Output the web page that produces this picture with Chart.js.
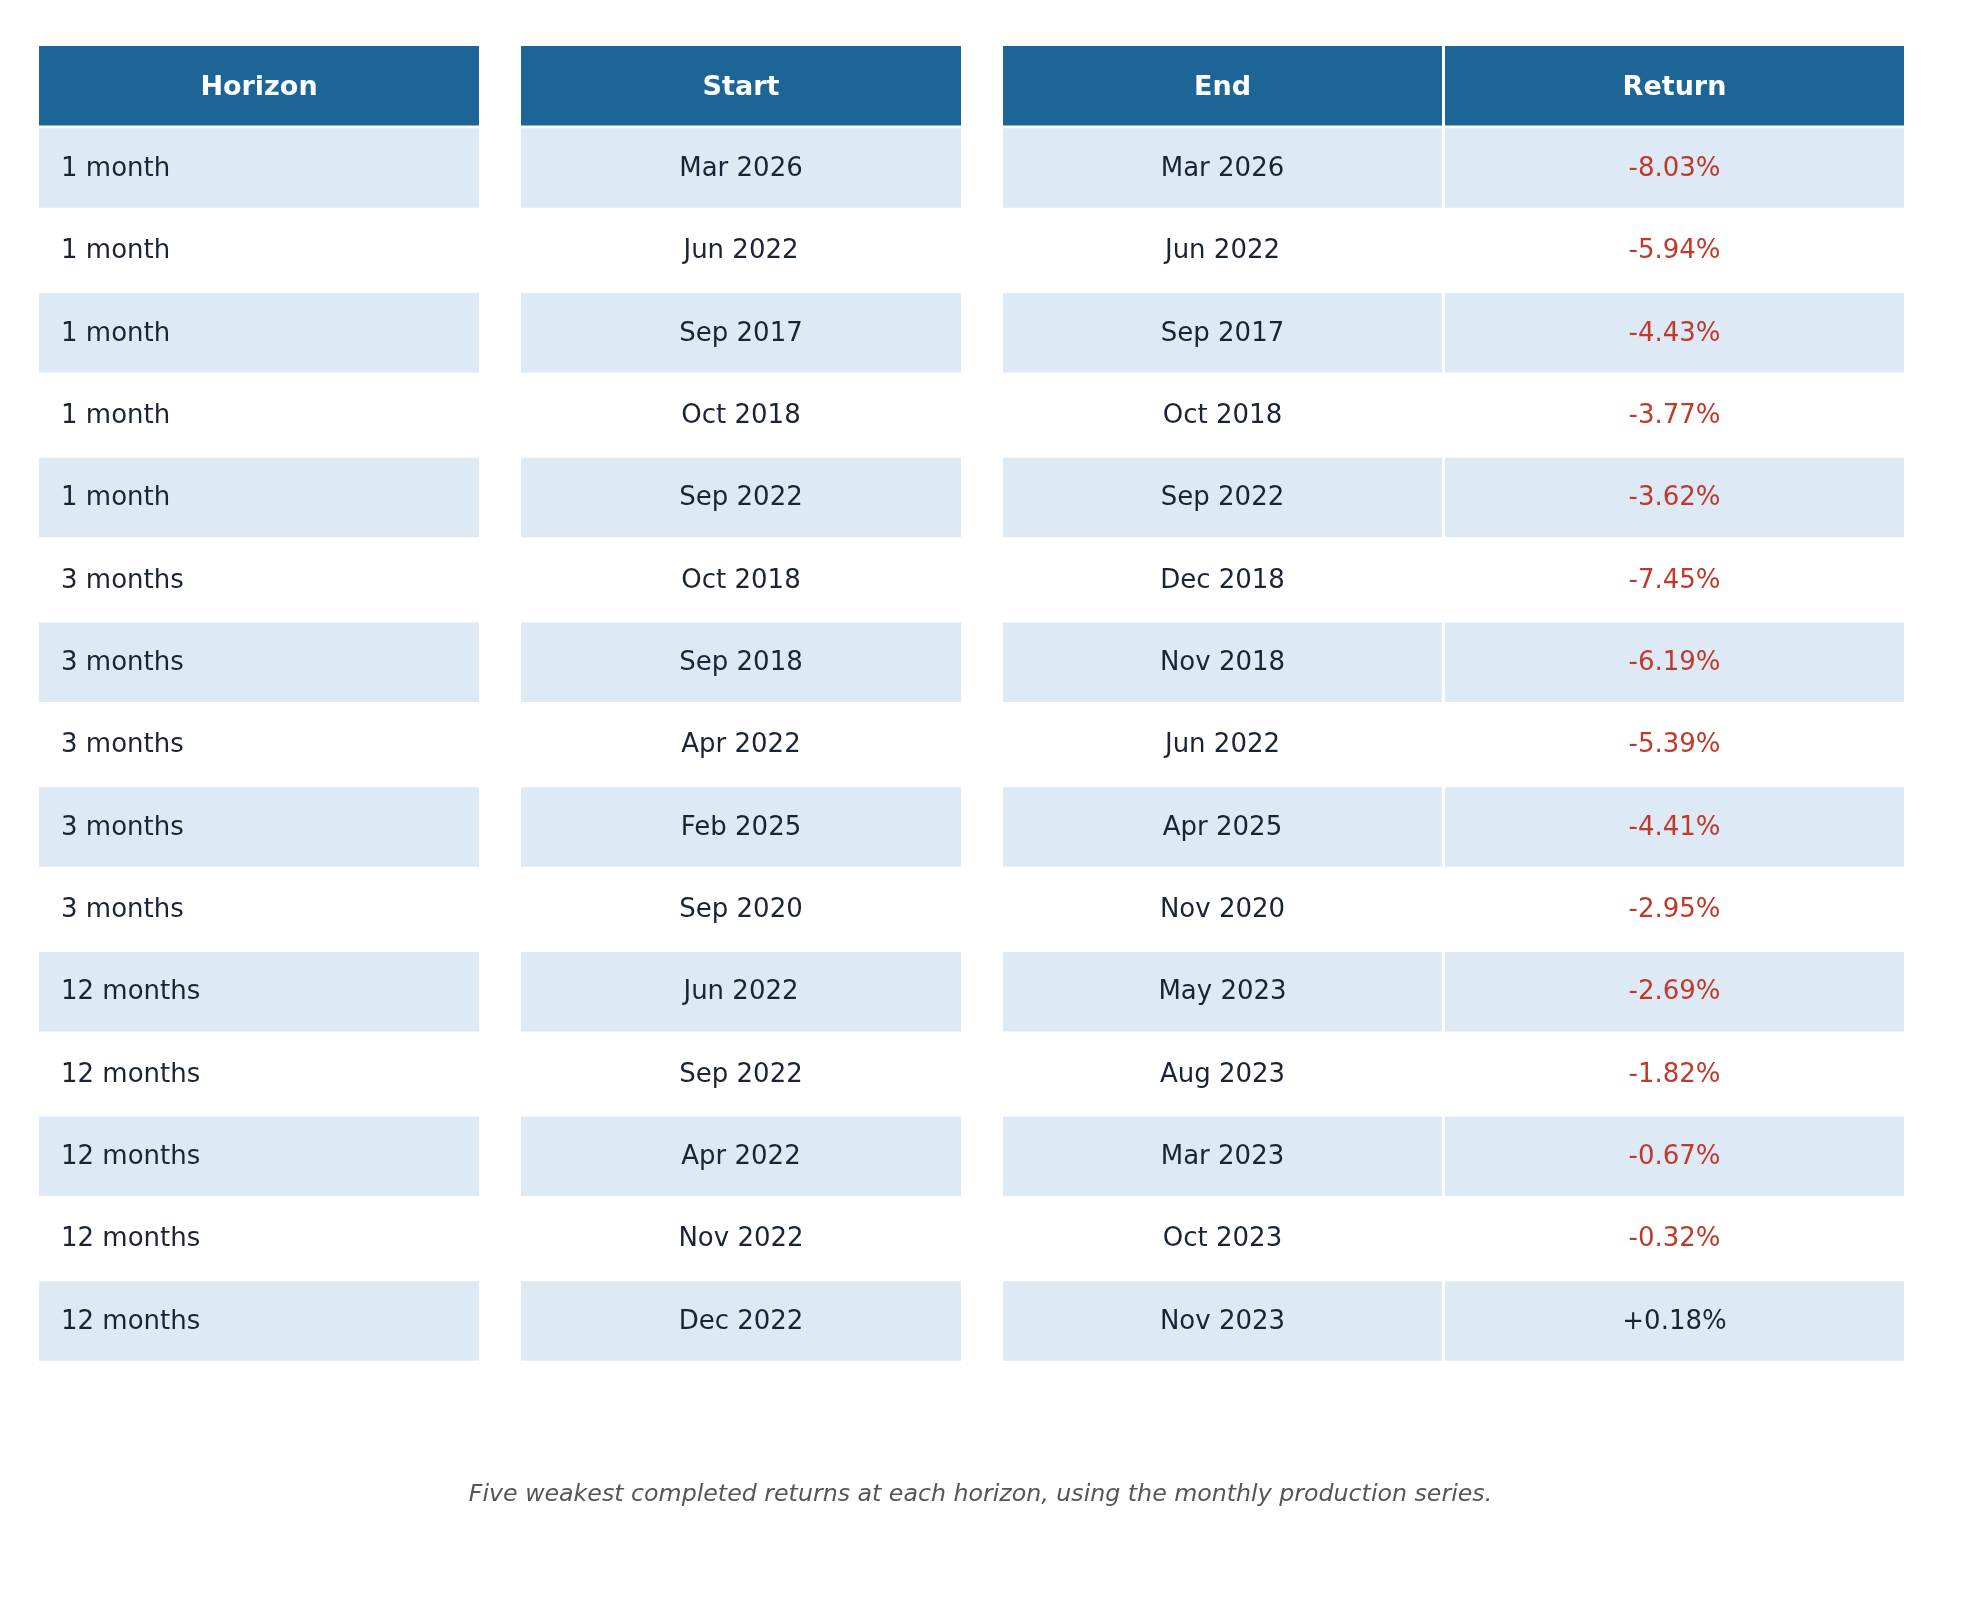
<!DOCTYPE html>
<html>
<head>
<meta charset="utf-8">
<script src="https://cdn.jsdelivr.net/npm/chart.js@4/dist/chart.umd.min.js"></script>
<style>
  html, body { margin: 0; padding: 0; background: #ffffff; }
  #wrap { width: 1961px; height: 1601px; position: relative; }
</style>
</head>
<body>
<div id="wrap"><canvas id="thetable"></canvas></div>
<script>
// what we have to start with
var columnNames = ['Horizon', 'Start', 'End', 'Return'];
var horizons = ['1 month', '1 month', '1 month', '1 month', '1 month',
  '3 months', '3 months', '3 months', '3 months', '3 months',
  '12 months', '12 months', '12 months', '12 months', '12 months'];
var startMonths = ['Mar 2026', 'Jun 2022', 'Sep 2017', 'Oct 2018', 'Sep 2022',
  'Oct 2018', 'Sep 2018', 'Apr 2022', 'Feb 2025', 'Sep 2020',
  'Jun 2022', 'Sep 2022', 'Apr 2022', 'Nov 2022', 'Dec 2022'];
var endMonths = ['Mar 2026', 'Jun 2022', 'Sep 2017', 'Oct 2018', 'Sep 2022',
  'Dec 2018', 'Nov 2018', 'Jun 2022', 'Apr 2025', 'Nov 2020',
  'May 2023', 'Aug 2023', 'Mar 2023', 'Oct 2023', 'Nov 2023'];
var returnsPct = [-8.03, -5.94, -4.43, -3.77, -3.62,
  -7.45, -6.19, -5.39, -4.41, -2.95,
  -2.69, -1.82, -0.67, -0.32, 0.18];
var captionText = 'Five weakest completed returns at each horizon, using the monthly production series.';

// layout (pixels across the page) - kept apart from the data
var pageWidth = 1961;
var columnSpans = [[39, 479], [521, 961], [1003, 1442], [1445, 1904]];
var headerBlue = '#1c6596';
var stripeBlue = '#dde9f5';
var darkText = '#1b2436';
var redText = '#c0392b';

function formatReturn(v) {
  return (v > 0 ? '+' : '') + v.toFixed(2) + '%';
}

// every column as text, header first
var columnTexts = [
  [columnNames[0]].concat(horizons),
  [columnNames[1]].concat(startMonths),
  [columnNames[2]].concat(endMonths),
  [columnNames[3]].concat(returnsPct.map(formatReturn))
];

var rowLabels = ['head'];
for (var i = 0; i < horizons.length; i++) {
  rowLabels.push('row' + (i + 1));
}

// one colour per row: header, then stripes
var rowColours = rowLabels.map(function (lab, i) {
  if (i === 0) return headerBlue;
  return (i % 2 === 1) ? stripeBlue : '#ffffff';
});

function makeColumnDataset(c) {
  return {
    label: columnNames[c],
    data: rowLabels.map(function () { return columnSpans[c].slice(); }),
    backgroundColor: rowColours,
    borderWidth: 0,
    borderSkipped: false,
    grouped: false,
    barPercentage: 0.965,
    categoryPercentage: 1.0
  };
}

// draws the cell texts on top of the bars
var cellTextPlugin = {
  id: 'cellText',
  afterDatasetsDraw: function (chart) {
    var ctx = chart.ctx;
    ctx.save();
    ctx.textBaseline = 'middle';
    chart.data.datasets.forEach(function (ds, c) {
      var meta = chart.getDatasetMeta(c);
      meta.data.forEach(function (bar, r) {
        var left = Math.min(bar.x, bar.base);
        var right = Math.max(bar.x, bar.base);
        var txt = columnTexts[c][r];
        if (r === 0) {
          ctx.font = 'bold 27px "DejaVu Sans"';
          ctx.fillStyle = '#ffffff';
          ctx.textAlign = 'center';
          ctx.fillText(txt, (left + right) / 2, bar.y + 2);
          return;
        }
        ctx.font = '26px "DejaVu Sans"';
        ctx.fillStyle = darkText;
        if (c === 3 && returnsPct[r - 1] < 0) {
          ctx.fillStyle = redText;
        }
        if (c === 0) {
          ctx.textAlign = 'left';
          ctx.fillText(txt, left + 22, bar.y + 1);
        } else {
          ctx.textAlign = 'center';
          ctx.fillText(txt, (left + right) / 2, bar.y + 1);
        }
      });
    });
    ctx.restore();
  }
};

var theTable = new Chart(document.getElementById('thetable').getContext('2d'), {
  type: 'bar',
  data: {
    labels: rowLabels,
    datasets: [0, 1, 2, 3].map(makeColumnDataset)
  },
  options: {
    indexAxis: 'y',
    responsive: true,
    maintainAspectRatio: false,
    animation: false,
    events: [],
    layout: {
      padding: { top: 44.5, bottom: 91.5, left: 0, right: 0 }
    },
    scales: {
      x: { type: 'linear', min: 0, max: pageWidth, display: false },
      y: { type: 'category', display: false, offset: true }
    },
    plugins: {
      legend: { display: false },
      tooltip: { enabled: false },
      title: {
        display: true,
        position: 'bottom',
        text: captionText,
        color: '#555555',
        font: { family: 'DejaVu Sans', size: 23.7, style: 'italic', weight: 'normal' },
        padding: { top: 118.8, bottom: 0 }
      }
    }
  },
  plugins: [cellTextPlugin]
});
</script>
</body>
</html>
